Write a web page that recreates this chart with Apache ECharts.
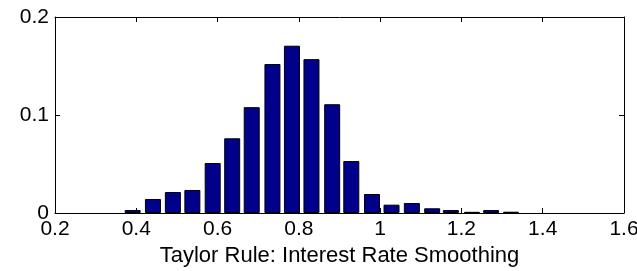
<!DOCTYPE html>
<html>
<head>
<meta charset="utf-8">
<script src="https://cdn.jsdelivr.net/npm/echarts@6/dist/echarts.min.js"></script>
<style>
html,body{margin:0;padding:0;background:#fff;}
#chart{width:637px;height:271px;}
</style>
</head>
<body>
<div id="chart"></div>
<script>
// Bin centers (x) and relative frequencies (y)
const binCenters = [0.391, 0.441, 0.490, 0.538, 0.588, 0.636, 0.684, 0.735, 0.783, 0.831,
                    0.882, 0.929, 0.980, 1.028, 1.078, 1.128, 1.174, 1.226, 1.273, 1.322];
const frequencies = [0.0030, 0.0143, 0.0214, 0.0235, 0.0510, 0.0762, 0.1080, 0.1520, 0.1707, 0.1570,
                     0.1110, 0.0530, 0.0194, 0.0085, 0.0102, 0.0048, 0.0030, 0.0012, 0.0030, 0.0013];
const xTicks = [0.2, 0.4, 0.6, 0.8, 1, 1.2, 1.4, 1.6];
const yTicks = [0, 0.1, 0.2];
const xLabel = 'Taylor Rule: Interest Rate Smoothing';

const font = '"Liberation Sans", Arial, Helvetica, sans-serif';
const chart = echarts.init(document.getElementById('chart'), null, {renderer: 'canvas'});
const fmt = v => {
  const r = Math.round(v * 1000) / 1000;
  return String(r);
};
const baseX = {
  type: 'value', min: xTicks[0], max: xTicks[xTicks.length - 1], interval: 0.2,
  axisLine: {show: true, onZero: false, lineStyle: {color: '#000', width: 1}},
  axisTick: {show: true, inside: true, length: 5, lineStyle: {color: '#000'}},
  splitLine: {show: false}
};
const baseY = {
  type: 'value', min: yTicks[0], max: yTicks[yTicks.length - 1], interval: 0.1,
  axisLine: {show: true, onZero: false, lineStyle: {color: '#000', width: 1}},
  axisTick: {show: true, inside: true, length: 5, lineStyle: {color: '#000'}},
  splitLine: {show: false}
};
chart.setOption({
  animation: false,
  backgroundColor: '#fff',
  grid: {left: 55, right: 13, top: 17, bottom: 58, containLabel: false, outerBoundsMode: 'none'},
  xAxis: [
    Object.assign({}, baseX, {
      position: 'bottom',
      name: xLabel, nameLocation: 'middle', nameGap: 25,
      nameTextStyle: {color: '#000', fontSize: 22, fontFamily: font},
      axisLabel: {show: true, color: '#000', fontSize: 21, fontFamily: font, margin: 6,
                  showMinLabel: true, showMaxLabel: true, hideOverlap: false, formatter: fmt}
    }),
    Object.assign({}, baseX, {position: 'top', axisLabel: {show: false}})
  ],
  yAxis: [
    Object.assign({}, baseY, {
      position: 'left',
      axisLabel: {show: true, color: '#000', fontSize: 21, fontFamily: font, margin: 6,
                  showMinLabel: true, showMaxLabel: true, formatter: fmt}
    }),
    Object.assign({}, baseY, {position: 'right', axisLabel: {show: false}})
  ],
  series: [{
    type: 'bar',
    xAxisIndex: 0, yAxisIndex: 0,
    barWidth: 16,
    data: binCenters.map((x, i) => [x, frequencies[i]]),
    itemStyle: {color: '#00008B', borderColor: '#000', borderWidth: 1}
  }]
});
</script>
</body>
</html>
